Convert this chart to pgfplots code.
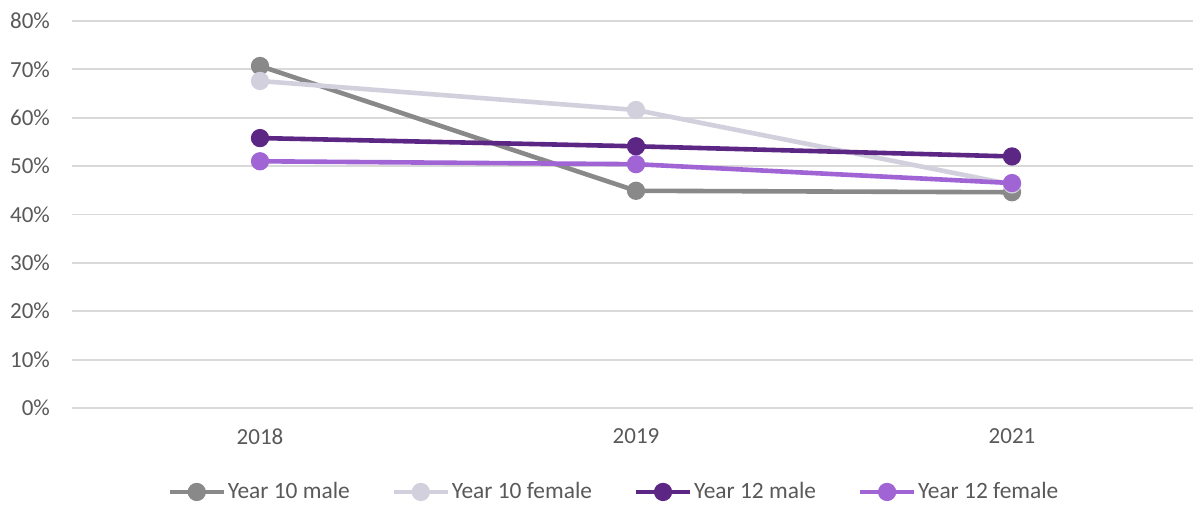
\documentclass[border=0pt]{standalone}
\usepackage{pgfplots}
\pgfplotsset{compat=1.18}
\usepackage{fontspec}
\setmainfont{Carlito}
\usetikzlibrary{calc}
\definecolor{cY10M}{HTML}{898989}
\definecolor{cY10F}{HTML}{D2D0DC}
\definecolor{cY12M}{HTML}{5C2784}
\definecolor{cY12F}{HTML}{A064D4}
\definecolor{txt}{HTML}{595959}
\definecolor{gridc}{HTML}{D9D9D9}
\begin{document}
\begin{tikzpicture}
\begin{axis}[
  name=ax,
  scale only axis,
  width=564pt, height=193.5pt,
  xmin=-0.5, xmax=2.5,
  ymin=0, ymax=80,
  xtick={0,1,2},
  xticklabels={2018,2019,2021},
  ytick={0,10,...,80},
  yticklabels={0\%,10\%,20\%,30\%,40\%,50\%,60\%,70\%,80\%},
  xmajorgrids=false,
  ymajorgrids=true,
  major grid style={draw=gridc, line width=0.9pt},
  axis line style={draw=none},
  major tick length=0pt,
  tick label style={font=\fontsize{11.5}{13}\selectfont, text=txt},
  yticklabel style={xshift=-7.5pt},
  xticklabel style={yshift=-7pt},
  legend columns=4,
  legend style={draw=none, at={(0.4805,-0.217)}, anchor=center,
    font=\fontsize{11.7}{13}\selectfont, text=txt,
    nodes={inner sep=1pt},
    /tikz/every even column/.append style={column sep=20pt}},
  legend image code/.code={\draw[mark repeat=2,mark phase=2] plot coordinates {(0cm,0cm)(0.47cm,0cm)(0.94cm,0cm)};},
  every axis plot/.append style={line width=2.3pt, mark=*, mark size=3.4pt, mark options={solid}},
]
\addplot[color=cY10M] coordinates {(0,70.7) (1,44.9) (2,44.6)};
\addlegendentry{Year 10 male}
\addplot[color=cY10F] coordinates {(0,67.6) (1,61.6) (2,46.2)};
\addlegendentry{Year 10 female}
\addplot[color=cY12M] coordinates {(0,55.8) (1,54.1) (2,52.0)};
\addlegendentry{Year 12 male}
\addplot[color=cY12F] coordinates {(0,51.0) (1,50.4) (2,46.5)};
\addlegendentry{Year 12 female}
\end{axis}
\pgfresetboundingbox
\path[use as bounding box] ($(ax.south west)+(-36pt,-48.5pt)$) rectangle ($(ax.north east)+(-3.5pt,10.5pt)$);
\end{tikzpicture}
\end{document}
